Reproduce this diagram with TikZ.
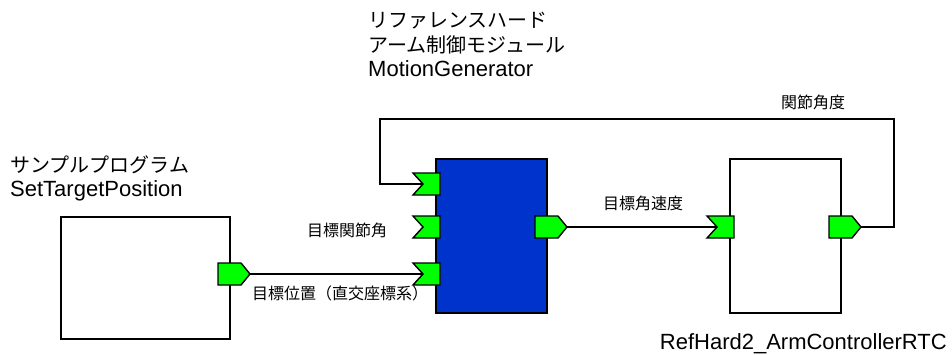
\documentclass[tikz,border=0pt]{standalone}
\usepackage{fontspec}
\setmainfont{Liberation Sans}
\newfontfamily\jpfont{Noto Sans CJK JP}

\definecolor{portgreen}{RGB}{0,255,0}
\definecolor{rtcblue}{RGB}{0,51,204}

\tikzset{
  rtcbox/.style={draw, line width=1.6, inner sep=0, anchor=north west},
  port/.style={draw, line width=1.4, fill=portgreen, line join=miter},
  wire/.style={line width=1.5},
  title/.style={inner sep=0, align=left, anchor=north west,
    font=\fontsize{22}{24.5}\selectfont},
  portlabel/.style={inner sep=0, font=\jpfont\fontsize{16}{18}\selectfont}
}

% ports: #1 name, (#2,#3) point on the box edge
\newcommand{\inport}[3]{%
  \begin{scope}[shift={(#2,#3)}]
  \draw[port] (-22,-11) -- (5,-11) -- (5,11) -- (-22,11) -- (-12,0) -- cycle;
  \coordinate (#1) at (-12,0);
  \end{scope}}
\newcommand{\outport}[3]{%
  \begin{scope}[shift={(#2,#3)}]
  \draw[port] (-11,-11) -- (12,-11) -- (21,0) -- (12,11) -- (-11,11) -- cycle;
  \coordinate (#1) at (21,0);
  \end{scope}}
\newcommand{\jp}[1]{{\jpfont\fontsize{20}{24.5}\selectfont #1}}

\begin{document}
\begin{tikzpicture}[x=1pt, y=-1pt]
\useasboundingbox (0,0) rectangle (952,354);

\node[rtcbox, minimum width=169, minimum height=122] (sample) at (60,216) {};
\node[rtcbox, fill=rtcblue, minimum width=111, minimum height=154] (motion) at (435,158) {};
\node[rtcbox, minimum width=111, minimum height=154] (arm) at (729,158) {};

\node[title] (sample-name) at (10,155)
  {\jp{サンプルプログラム}\\SetTargetPosition};
\node[title] (motion-name) at (368,12)
  {\jp{リファレンスハード}\\\jp{アーム制御モジュール}\\MotionGenerator};
\node[inner sep=0, anchor=base east, font=\fontsize{22}{24}\selectfont] (arm-name)
  at (947,349) {RefHard2\_ArmControllerRTC};

\outport{sample-out}{229}{274}
\inport{motion-in1}{435}{184}
\inport{motion-in2}{435}{227}
\inport{motion-in3}{435}{274}
\outport{motion-out}{546}{227}
\inport{arm-in}{729}{227}
\outport{arm-out}{840}{227}

% connectors, port tip to port notch
\coordinate (fb-r) at (894,119);
\coordinate (fb-l) at (380,119);
\draw[wire] (arm-out) -| (fb-r) -- (fb-l) |- (motion-in1);
\draw[wire] (sample-out) -- (motion-in3);
\draw[wire] (motion-out) -- (arm-in);

\node[portlabel] (lbl-joint) at (347,230) {目標関節角};
\node[portlabel] (lbl-pos) at (340,293) {目標位置（直交座標系）};
\node[portlabel] (lbl-vel) at (643,203) {目標角速度};
\node[portlabel] (lbl-angle) at (813,102) {関節角度};
\end{tikzpicture}
\end{document}
